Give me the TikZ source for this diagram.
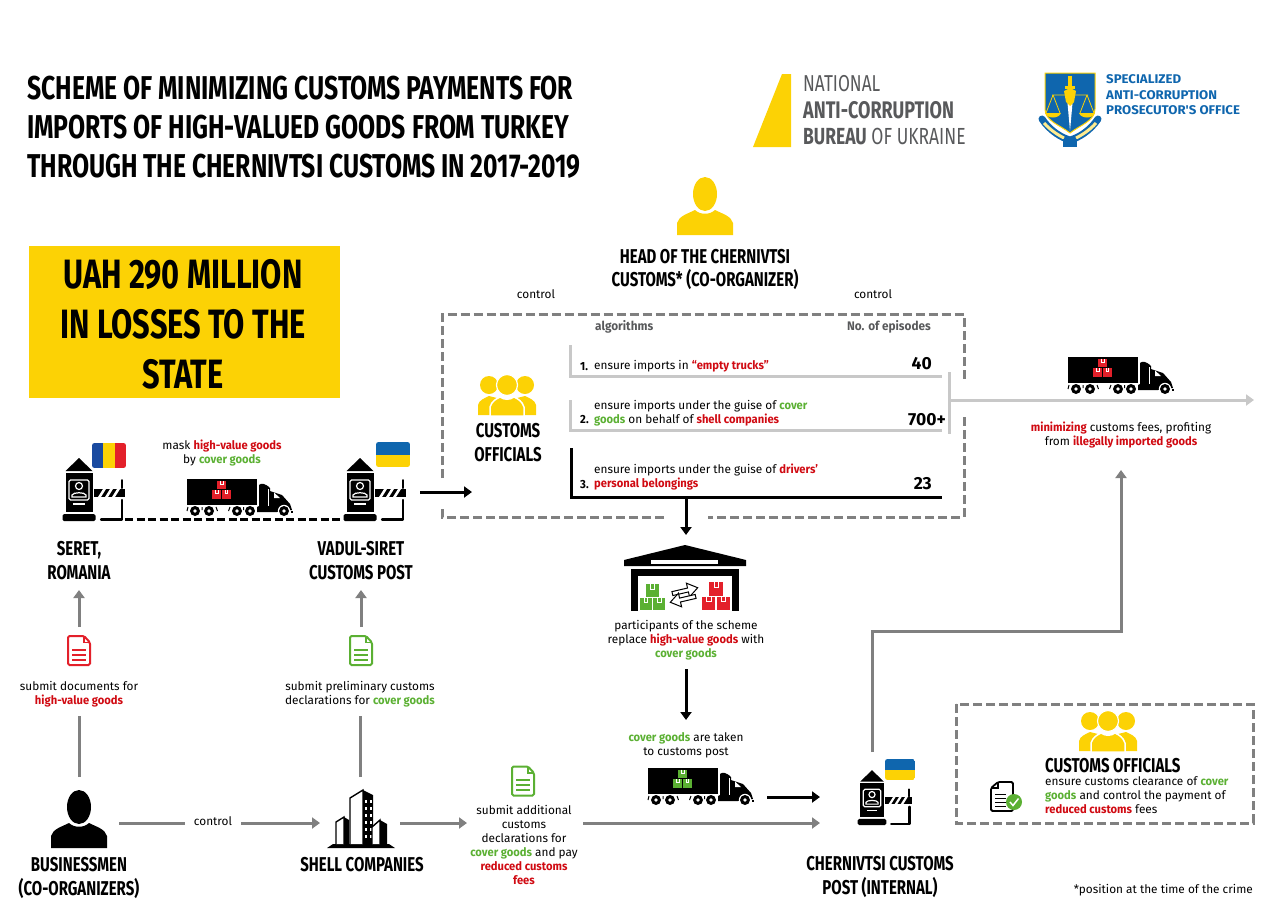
\documentclass[tikz,border=0pt]{standalone}
\usepackage{fontspec}
\usetikzlibrary{arrows.meta,positioning}
\setmainfont{Fira Sans}
\newfontfamily\condfont[FakeStretch=0.75]{Fira Sans}
\newfontfamily\bodyfont[BoldFeatures={FakeStretch=0.95}]{Fira Sans}
\newfontfamily\logofont[FakeStretch=1.05]{Fira Sans}
\definecolor{sign_yellow}{HTML}{FCD205}
\definecolor{text_red}{HTML}{D00A12}
\definecolor{text_green}{HTML}{5BB033}
\definecolor{icon_red}{HTML}{E3202A}
\definecolor{line_gray}{HTML}{808080}
\definecolor{pale_gray}{HTML}{C8C8C8}
\definecolor{logo_gray}{HTML}{58595B}
\definecolor{logo_blue}{HTML}{0F66AE}
\definecolor{flag_blue}{HTML}{1A4AA0}
\newcommand{\hlred}[1]{\textcolor{text_red}{\textbf{#1}}}
\newcommand{\hlgreen}[1]{\textcolor{text_green}{\textbf{#1}}}
\tikzset{
	pics/cargo_pic/.style={code={
		\fill[#1] (-13.5,-13) rectangle (-0.5,0);
		\fill[#1] (0.5,-13) rectangle (13.5,0);
		\fill[#1] (-6.5,-27) rectangle (6.5,-14);
		\draw[white,line width=.7] (-9,-13) -- (-9,-8) -- (-5,-8) -- (-5,-13);
		\draw[white,line width=.7] (5,-13) -- (5,-8) -- (9,-8) -- (9,-13);
		\draw[white,line width=.7] (-2,-27) -- (-2,-22) -- (2,-22) -- (2,-27);
	}},
	pics/truck_pic/.style={code={
		\fill (0,0) rectangle (70,26);
		\fill (72,27) -- (72,6) .. controls (74,4) and (78,4) .. (83,9) -- (83,12) -- (95,16) -- (103,25) -- (105,31) -- (90,33) -- (70,33) -- (70,28) -- cycle;
		\fill[white] (87,13.5) -- (93,19) -- (87,19) -- cycle;
		\fill[white] (80.5,10) rectangle (81.5,27);
		\fill[white] (97,32) circle (6.2);
		\fill (97,32) circle (5);
		\fill[white] (97,32) circle (1.8);
		\fill (104,32) rectangle (106,33.5);
		\foreach \wx in {8,22,50,63} {
			\fill[white] (\wx,32) circle (6);
			\fill (\wx,32) circle (5);
			\fill[white] (\wx,32) circle (1.8);
		}
		\draw[line width=1] (1,28) -- (0,32) (29,28) -- (30.5,32) (43,28) -- (41.5,32) (15,28) -- (15,31) (56.5,28) -- (56.5,31);
		\pic[scale=.68] at (34.5,20) {cargo_pic=#1};
	}},
	pics/post_pic/.style={code={
		\fill (0,-63) -- (13.5,-50) -- (-13.5,-50) -- cycle;
		\fill (-13.5,-48) rectangle (13.5,-9);
		\fill[rounded corners=1.5] (-16.5,-7) rectangle (16.5,0);
		\draw[white,line width=1.2,rounded corners=1.5] (-10,-41) rectangle (10,-21);
		\draw[white,line width=1.2] (0,-35) circle (3.5);
		\draw[white,line width=1.2] (-7,-24) -- (-7,-26) .. controls (-6,-29) and (6,-29) .. (7,-26) -- (7,-24) -- cycle;
		\draw[white,line width=1.2] (-6,-17) -- (6,-17);
		\fill (15,-32) -- (46,-32) -- (46,-24) -- (15,-24) -- cycle;
		\foreach \sx in {19,26,33} {
			\fill[white] (\sx,-24) -- (\sx+3,-24) -- (\sx+8,-32) -- (\sx+5,-32) -- cycle;
		}
		\draw[line width=2,line cap=round] (43,-41) -- (43,-33);
		\draw[line width=2.2,line cap=round,line join=round] (43,-21) -- (43,-1.5) -- (22,-1.5);
	}},
	pics/person_pic/.style={code={
		\fill[#1] (0,-12) ellipse (12 and 17);
		\fill[#1] (-28,29) -- (-28,17) .. controls (-26,10) and (-18,8) .. (-10,4) .. controls (-5,9) and (5,9) .. (10,4) .. controls (18,8) and (26,10) .. (28,17) -- (28,29) -- cycle;
	}},
	pics/people_pic/.style={code={
		\foreach \sd in {-1,1} {
			\fill[sign_yellow] (\sd*18,-10) circle (9);
			\fill[sign_yellow] (\sd*29,20) -- (\sd*29,10) .. controls (\sd*28,5) and (\sd*22,3) .. (\sd*18,1) -- (\sd*10,3) -- (\sd*10,20) -- cycle;
		}
		\draw[white,line width=1.5,fill=sign_yellow] (-17,21) -- (-17,12) .. controls (-15,6) and (-11,4) .. (-7,2) .. controls (-3,5) and (3,5) .. (7,2) .. controls (11,4) and (15,6) .. (17,12) -- (17,21) -- cycle;
		\draw[white,line width=1.2,fill=sign_yellow] (0,-10) circle (10.5);
	}},
	pics/doc_pic/.style={code={
		\draw[#1,line width=2,rounded corners=1.5,fill=white] (-11,-14.5) -- (5,-14.5) -- (11,-8) -- (11,14.5) -- (-11,14.5) -- cycle;
		\draw[#1,line width=1.2] (5,-14) -- (5,-8) -- (11,-8);
		\draw[#1,line width=2] (-7,-1) -- (7,-1) (-7,4) -- (7,4) (-7,9) -- (7,9);
	}},
	pics/building_pic/.style={code={
		\fill (-34,0) -- (-28,-4) -- (28,-4) -- (34,0) -- cycle;
		\draw[line width=1.4,fill=white] (-11,-4) -- (-11,-50) -- (2,-58) -- (2,-4);
		\fill (2,-58) -- (12,-53) -- (12,-4) -- (2,-4) -- cycle;
		\foreach \wy in {-48,-41,-34,-27,-20,-13} {
			\fill[white] (4,\wy) rectangle (6,\wy+3);
			\fill[white] (8.5,\wy) rectangle (10.5,\wy+3);
		}
		\draw[line width=1.4,fill=white] (-25,-4) -- (-25,-26) -- (-17,-31) -- (-17,-4);
		\fill (-17,-31) -- (-12,-28) -- (-12,-4) -- (-17,-4) -- cycle;
		\draw[line width=1.4,fill=white] (11,-4) -- (11,-21) -- (19,-28) -- (19,-4);
		\fill (19,-28) -- (26,-24) -- (26,-4) -- (19,-4) -- cycle;
	}},
	pics/emblem_pic/.style={code={
		\draw[sign_yellow,line width=1,fill=logo_blue] (-25,0) -- (25,0) -- (25,36) .. controls (25,48) and (10,52) .. (0,60) .. controls (-10,52) and (-25,48) .. (-25,36) -- cycle;
		\fill[sign_yellow] (-2,3) rectangle (2,14);
		\fill[sign_yellow] (-5,13) rectangle (5,15.5);
		\fill[white] (-2.5,30) -- (2.5,30) -- (0,58) -- cycle;
		\draw[sign_yellow,line width=.8] (-18,22) -- (18,22) (-17,22) -- (-24,40) (-17,22) -- (-10,40) (17,22) -- (24,40) (17,22) -- (10,40);
		\fill[sign_yellow] (-25,40) -- (-9,40) .. controls (-11,46) and (-23,46) .. (-25,40) -- cycle;
		\fill[sign_yellow] (25,40) -- (9,40) .. controls (11,46) and (23,46) .. (25,40) -- cycle;
		\fill[sign_yellow] (0,15) -- (6,18) -- (4,29) -- (0,33) -- (-4,29) -- (-6,18) -- cycle;
		\draw[logo_blue,line width=7,line cap=round] (-28,46) .. controls (-20,58) and (-8,65) .. (0,67) .. controls (8,65) and (20,58) .. (28,46);
		\draw[sign_yellow!45,line width=3] (-26,50) .. controls (-19,58) and (-10,63) .. (-6,65) (26,50) .. controls (19,58) and (10,63) .. (6,65);
		\fill[logo_blue] (-7,66) rectangle (7,74);
	}}
}
\begin{document}
\begin{tikzpicture}[x=1pt,y=-1pt,
		title_style/.style={font=\condfont\bfseries\fontsize{33}{39}\selectfont,align=left,anchor=west,inner sep=0pt},
		head_style/.style={font=\condfont\bfseries\fontsize{20}{24}\selectfont,align=center,inner sep=0pt},
		body_style/.style={font=\bodyfont\fontsize{11.8}{14}\selectfont,align=center,inner sep=0pt},
		left_style/.style={body_style,align=left,anchor=west},
		count_style/.style={font=\bfseries\fontsize{17.5}{20}\selectfont,anchor=east,inner sep=0pt},
		place_style/.style={inner sep=0pt,outer sep=0pt},
		gray_edge/.style={draw=line_gray,line width=3pt},
		gray_arrow/.style={gray_edge,-{Triangle[length=8pt,width=11pt]}},
		black_arrow/.style={draw=black,line width=3pt,-{Triangle[length=8pt,width=11pt]}},
		pale_edge/.style={draw=pale_gray,line width=3pt},
		dash_edge/.style={draw=line_gray,line width=3pt,dash pattern=on 9pt off 4pt}]
		
		\useasboundingbox (0,0) rectangle (1279,913);
		
		\node[title_style] (title) at (27,127) {SCHEME OF MINIMIZING CUSTOMS PAYMENTS FOR\\IMPORTS OF HIGH-VALUED GOODS FROM TURKEY\\THROUGH THE CHERNIVTSI CUSTOMS IN 2017-2019};
		
		\fill[sign_yellow] (753,147) -- (782,74) -- (791,74) -- (791,147) -- cycle;
		\node[anchor=west,inner sep=0pt,text=logo_gray,font=\condfont\fontsize{23}{28}\selectfont] (nabu_a) at (803,84) {NATIONAL};
		\node[anchor=west,inner sep=0pt,text=logo_gray,font=\condfont\bfseries\fontsize{24}{28}\selectfont] (nabu_b) at (803,110) {ANTI-CORRUPTION};
		\node[anchor=west,inner sep=0pt,text=logo_gray,font=\condfont\fontsize{23.3}{28}\selectfont] (nabu_c) at (803,137) {\textbf{BUREAU} OF UKRAINE};
		\pic at (1070,73) {emblem_pic};
		\node[anchor=west,inner sep=0pt,align=left,text=logo_blue,font=\logofont\bfseries\fontsize{12.6}{15.5}\selectfont] (sapo) at (1106,95) {SPECIALIZED\\ANTI-CORRUPTION\\PROSECUTOR'S OFFICE};
		
		\node[fill=sign_yellow,minimum width=311pt,minimum height=152pt,inner sep=0pt] (losses) at (184.5,322) {};
		\node[inner sep=0pt,align=center,font=\condfont\bfseries\fontsize{41}{50}\selectfont] (losses_text) at (183,324) {UAH 290 MILLION\\IN LOSSES TO THE\\STATE};
		
		\pic at (705,206) {person_pic=sign_yellow};
		\node[head_style,font=\condfont\bfseries\fontsize{20}{23}\selectfont] (head) at (705,269) {HEAD OF THE CHERNIVTSI\\CUSTOMS* (CO-ORGANIZER)};
		\node[body_style] (control_a) at (536,294) {control};
		\node[body_style] (control_b) at (873,294) {control};
		
		\draw[dash_edge] (442,478) -- (442,314.5) -- (964,314.5) -- (964,380);
		\draw[dash_edge] (964,417) -- (964,517) -- (708,517);
		\draw[dash_edge] (664,517) -- (442,517) -- (442,507);
		
		\pic at (507,395) {people_pic};
		\node[head_style] (officials_a) at (508,443) {CUSTOMS\\OFFICIALS};
		
		\node[left_style,text=logo_gray,font=\bodyfont\bfseries\fontsize{12.4}{14}\selectfont] (algo) at (595,327) {algorithms};
		\node[left_style,anchor=east,text=logo_gray,font=\bodyfont\bfseries\fontsize{12.4}{14}\selectfont] (episodes) at (931,327) {No. of episodes};
		
		\draw[pale_edge] (570,345) -- (570,376) -- (942,376);
		\node[left_style] (row_a_no) at (580,366.5) {\textbf{1.}};
		\node[left_style] (row_a) at (594,366.5) {ensure imports in \hlred{“empty trucks”}};
		\node[count_style] (count_a) at (932,364) {40};
		
		\draw[pale_edge] (570,400) -- (570,430) -- (942,430);
		\node[left_style] (row_b_no) at (580,420) {\textbf{2.}};
		\node[left_style] (row_b) at (594,413) {ensure imports under the guise of \hlgreen{cover}\\\hlgreen{goods} on behalf of \hlred{shell companies}};
		\node[count_style] (count_b) at (946,420) {700+};
		
		\draw[draw=black,line width=3pt] (571,448) -- (571,497) -- (942,497);
		\node[left_style] (row_c_no) at (580,484.5) {\textbf{3.}};
		\node[left_style] (row_c) at (594,477.5) {ensure imports under the guise of \hlred{drivers’}\\\hlred{personal belongings}};
		\node[count_style] (count_c) at (932,484) {23};
		
		\coordinate (bar_top) at (949,372);
		\coordinate (bar_bot) at (949,434);
		\coordinate (exit_in) at (949,400);
		\coordinate (exit_out) at (1254,400);
		\draw[pale_edge] (bar_top) -- (bar_bot);
		\draw[pale_edge,-{Triangle[length=8pt,width=11pt]}] (exit_in) -- (exit_out);
		
		\pic at (1068,357) {truck_pic=icon_red};
		\node[place_style,minimum height=70pt,minimum width=40pt] (gain) at (1121,435) {};
		\node[body_style] (gain_text) at (1121,435) {\hlred{minimizing} customs fees, profiting\\from \hlred{illegally imported goods}};
		
		\node[place_style,minimum height=58pt,minimum width=60pt,font=\condfont\bfseries\fontsize{20}{24}\selectfont,align=center] (seret) at (79,561) {SERET,\\ROMANIA};
		\node[place_style,minimum height=58pt,minimum width=60pt,font=\condfont\bfseries\fontsize{20}{24}\selectfont,align=center] (vadul) at (361,561) {VADUL-SIRET\\CUSTOMS POST};
		
		\pic at (79,521) {post_pic};
		\pic at (360,521) {post_pic};
		\begin{scope}
			\clip[rounded corners=2.5] (92,443) rectangle (126,468);
			\fill[flag_blue] (92,443) rectangle (103.3,468);
			\fill[sign_yellow] (103.3,443) rectangle (114.6,468);
			\fill[icon_red] (114.6,443) rectangle (126,468);
		\end{scope}
		\begin{scope}
			\clip[rounded corners=2.5] (376,442) rectangle (410,467);
			\fill[logo_blue] (376,442) rectangle (410,454.5);
			\fill[sign_yellow] (376,454.5) rectangle (410,467);
		\end{scope}
		\coordinate (road_a) at (125,519);
		\coordinate (road_b) at (343,519);
		\draw[draw=black,line width=3pt,dash pattern=on 8pt off 3.5pt] (road_a) -- (road_b);
		\pic at (187,479) {truck_pic=icon_red};
		\node[body_style] (mask) at (222,453) {mask \hlred{high-value goods}\\by \hlgreen{cover goods}};
		
		\node[place_style,minimum width=118pt,minimum height=40pt] (post_v) at (361,492) {};
		\coordinate (box_in) at (472,492);
		\draw[black_arrow] (post_v.east) -- (box_in);
		
		\node[place_style,minimum width=30pt,minimum height=46pt] (doc_a) at (79,650) {};
		\node[place_style,minimum width=30pt,minimum height=46pt] (doc_b) at (361,650) {};
		\pic at (79,650.5) {doc_pic=icon_red};
		\pic at (361,650.5) {doc_pic=text_green};
		\draw[gray_arrow] (doc_a) -- (seret);
		\draw[gray_arrow] (doc_b) -- (vadul);
		
		\node[place_style,body_style,minimum height=44pt] (submit_a) at (79,694) {submit documents for\\\hlred{high-value goods}};
		\node[place_style,body_style,minimum height=44pt] (submit_b) at (360,694) {submit preliminary customs\\declarations for \hlgreen{cover goods}};
		
		\node[place_style,minimum width=80pt,minimum height=92pt] (biz) at (79,823) {};
		\pic at (79,819) {person_pic=black};
		\node[place_style,minimum width=80pt,minimum height=92pt] (shell) at (360,823) {};
		\pic at (361,848) {building_pic};
		\draw[gray_edge] (biz) -- (submit_a);
		\draw[gray_edge] (shell) -- (submit_b);
		
		\node[place_style,body_style,minimum width=56pt,text depth=3pt] (control_c) at (213,823) {control};
		\draw[gray_edge] (biz) -- (control_c);
		\draw[gray_arrow] (control_c) -- (shell);
		
		\node[head_style] (biz_text) at (79,878) {BUSINESSMEN\\(CO-ORGANIZERS)};
		\node[head_style] (shell_text) at (362,865) {SHELL COMPANIES};
		
		\pic at (523,781) {doc_pic=text_green};
		\node[body_style] (extra) at (524,844.5) {submit additional\\customs\\declarations for\\\hlgreen{cover goods} and pay\\\hlred{reduced customs}\\\hlred{fees}};
		\coordinate (extra_in) at (467,823);
		\coordinate (extra_out) at (583,823);
		\draw[gray_arrow] (shell) -- (extra_in);
		
		\node[place_style,minimum width=100pt,minimum height=86pt] (store) at (686,578) {};
		\coordinate (row_c_out) at (686,497);
		\draw[black_arrow] (row_c_out) -- (store);
		\fill (685,545) -- (746,560) -- (746,566) -- (624,566) -- (624,560) -- cycle;
		\fill[white] (651,560) rectangle (718,563.5);
		\fill (631,569) rectangle (638,611);
		\fill (732,569) rectangle (739,611);
		\fill (638,569) rectangle (732,576);
		\pic[scale=.95] at (652.5,610) {cargo_pic=text_green};
		\pic[scale=1.03] at (716,610) {cargo_pic=icon_red};
		\begin{scope}[rotate around={13:(684,595)}]
			\draw[fill=white,line width=1] (673,589) -- (689,589) -- (689,584) -- (699,591) -- (689,598) -- (689,593) -- (673,593) -- cycle;
			\draw[fill=white,line width=1] (695,597) -- (679,597) -- (679,592) -- (669,599) -- (679,606) -- (679,601) -- (695,601) -- cycle;
		\end{scope}
		\node[place_style,body_style,minimum height=58pt] (replace) at (686,640) {participants of the scheme\\replace \hlred{high-value goods} with\\\hlgreen{cover goods}};
		\node[place_style,body_style,minimum height=50pt] (taken) at (686,745) {\hlgreen{cover goods} are taken\\to customs post};
		\draw[black_arrow] (replace) -- (taken);
		
		\node[place_style,minimum width=131pt,minimum height=40pt] (truck_c) at (701.5,797) {};
		\pic at (648,768) {truck_pic=text_green};
		\node[place_style,minimum width=104pt,minimum height=96pt] (post_c) at (872,800) {};
		\pic[scale=.87] at (872,825) {post_pic};
		\begin{scope}
			\clip[rounded corners=2.5] (885,759) rectangle (915,780);
			\fill[logo_blue] (885,759) rectangle (915,769.5);
			\fill[sign_yellow] (885,769.5) rectangle (915,780);
		\end{scope}
		\draw[black_arrow] (truck_c.east) -- (truck_c.east -| post_c.west);
		\draw[gray_arrow] (extra_out) -- (extra_out -| post_c.west);
		\coordinate (turn) at (1121,631);
		\draw[gray_edge,-{Triangle[length=8pt,width=11pt]}] (post_c.north) |- (turn) -- (gain.south);
		\node[head_style] (post_c_text) at (880,877) {CHERNIVTSI CUSTOMS\\POST (INTERNAL)};
		
		\draw[dash_edge] (956,704) rectangle (1253,823);
		\pic at (1108,731) {people_pic};
		\node[head_style,anchor=west] (officials_b) at (1045,766) {CUSTOMS OFFICIALS};
		\node[left_style] (officials_text) at (1045,795.5) {ensure customs clearance of \hlgreen{cover}\\\hlgreen{goods} and control the payment of\\\hlred{reduced customs} fees};
		\draw[line width=1.8,rounded corners=1.5,fill=white] (991,788) -- (998,782) -- (1013,782) -- (1013,811) -- (991,811) -- cycle;
		\draw[line width=1.2] (998,782) -- (998,788) -- (991,788);
		\draw[line width=1] (995,794) -- (1006,794) (995,798) -- (1006,798) (995,802) -- (1006,802) (995,806) -- (1006,806);
		\fill[text_green] (1014,802) circle (8);
		\draw[white,line width=1.5] (1010,802) -- (1013,805.5) -- (1018.5,798.5);
		
		\node[body_style,anchor=east] (footnote) at (1253,890) {*position at the time of the crime};
		
\end{tikzpicture}
\end{document}
